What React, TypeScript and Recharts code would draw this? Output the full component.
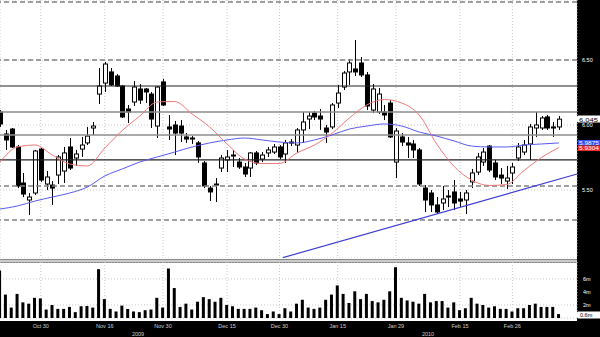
import React from "react";
import { ComposedChart, Bar, Line, XAxis, YAxis, ReferenceLine, CartesianGrid } from "recharts";

// daily OHLC (index 0 = first, partly hidden bar)
const opens = [
  6.100, 5.931, 5.969, 5.831, 5.554, 5.423, 5.477, 5.815, 5.546, 5.538,
  5.615, 5.646, 5.831, 5.746, 5.815, 5.862, 5.977, 6.238, 6.323, 6.408,
  6.377, 6.300, 6.123, 6.177, 6.277, 6.277, 6.238, 5.992, 6.331, 5.985,
  6.000, 5.992, 5.908, 5.892, 5.862, 5.708, 5.515, 5.538, 5.669, 5.731,
  5.762, 5.715, 5.677, 5.669, 5.785, 5.738, 5.785, 5.792, 5.831, 5.777,
  5.862, 5.846, 5.962, 6.046, 6.092, 6.069, 5.977, 5.985, 6.169, 6.292,
  6.408, 6.431, 6.477, 6.385, 6.115, 6.100, 6.100, 6.169, 5.715, 5.908,
  5.862, 5.854, 5.808, 5.515, 5.477, 5.385, 5.400, 5.446, 5.485, 5.431,
  5.423, 5.562, 5.638, 5.715, 5.838, 5.708, 5.615, 5.569, 5.631, 5.746,
  5.792, 5.854, 5.977, 5.977, 6.062, 5.985, 5.985,
];
const highs = [
  6.115, 5.962, 5.977, 5.846, 5.631, 5.477, 5.808, 5.823, 5.646, 5.569,
  5.769, 5.831, 5.900, 5.808, 5.908, 5.985, 6.023, 6.438, 6.485, 6.438,
  6.392, 6.308, 6.154, 6.338, 6.315, 6.285, 6.254, 6.300, 6.354, 6.077,
  6.031, 6.038, 5.938, 5.915, 5.877, 5.723, 5.531, 5.592, 5.769, 5.808,
  5.808, 5.746, 5.708, 5.792, 5.800, 5.792, 5.831, 5.854, 5.846, 5.885,
  5.892, 5.977, 6.100, 6.100, 6.108, 6.123, 6.000, 6.169, 6.308, 6.415,
  6.508, 6.654, 6.523, 6.408, 6.315, 6.285, 6.154, 6.192, 5.977, 5.938,
  5.908, 5.885, 5.823, 5.538, 5.500, 5.446, 5.531, 5.500, 5.577, 5.485,
  5.500, 5.662, 5.785, 5.823, 5.846, 5.731, 5.669, 5.685, 5.708, 5.862,
  5.885, 6.008, 6.100, 6.069, 6.077, 6.023, 6.069,
];
const lows = [
  5.985, 5.808, 5.823, 5.515, 5.446, 5.308, 5.462, 5.562, 5.500, 5.385,
  5.546, 5.554, 5.654, 5.685, 5.754, 5.846, 5.923, 6.162, 6.254, 6.300,
  6.292, 6.054, 6.015, 6.146, 6.162, 6.169, 5.977, 5.900, 6.146, 5.885,
  5.769, 5.869, 5.862, 5.854, 5.708, 5.515, 5.415, 5.408, 5.638, 5.638,
  5.677, 5.662, 5.600, 5.600, 5.692, 5.715, 5.754, 5.777, 5.738, 5.708,
  5.838, 5.785, 5.862, 5.969, 6.038, 5.962, 5.862, 5.969, 6.131, 6.269,
  6.308, 6.377, 6.369, 6.115, 6.092, 6.085, 6.038, 5.900, 5.592, 5.838,
  5.746, 5.746, 5.531, 5.331, 5.331, 5.315, 5.346, 5.369, 5.346, 5.369,
  5.315, 5.515, 5.615, 5.685, 5.638, 5.577, 5.546, 5.508, 5.546, 5.723,
  5.769, 5.731, 5.908, 5.962, 5.962, 5.908, 5.962,
];
const closes = [
  6.008, 5.885, 5.831, 5.531, 5.469, 5.446, 5.800, 5.577, 5.600, 5.515,
  5.754, 5.785, 5.669, 5.777, 5.846, 5.915, 5.992, 6.300, 6.469, 6.308,
  6.300, 6.062, 6.100, 6.292, 6.192, 6.254, 6.046, 6.292, 6.154, 5.969,
  5.938, 5.938, 5.892, 5.900, 5.754, 5.531, 5.485, 5.546, 5.746, 5.754,
  5.769, 5.677, 5.623, 5.785, 5.708, 5.769, 5.808, 5.831, 5.754, 5.862,
  5.869, 5.962, 6.023, 6.069, 6.062, 6.046, 5.946, 6.154, 6.246, 6.400,
  6.477, 6.408, 6.385, 6.146, 6.277, 6.238, 6.077, 5.908, 5.954, 5.869,
  5.846, 5.808, 5.546, 5.423, 5.385, 5.331, 5.431, 5.454, 5.400, 5.415,
  5.477, 5.631, 5.754, 5.792, 5.654, 5.600, 5.592, 5.592, 5.677, 5.831,
  5.846, 5.985, 6.000, 6.054, 5.977, 5.977, 6.045,
];
// volume in millions
const volumes = [
  7.3, 3.6, 1.6, 3.7, 2.4, 2.2, 3.1, 3.0, 1.3, 2.0,
  1.4, 1.4, 1.7, 0.9, 1.8, 1.85, 1.6, 7.5, 2.9, 1.4,
  1.0, 1.9, 1.4, 1.0, 0.9, 1.2, 1.3, 3.1, 1.6, 7.6,
  4.6, 1.7, 2.2, 1.3, 2.5, 3.2, 2.9, 2.5, 3.1, 2.0,
  1.8, 1.4, 1.4, 1.4, 1.6, 1.2, 0.6, 1.0, 0.6, 1.5,
  1.0, 2.2, 2.8, 1.6, 1.4, 1.6, 2.8, 3.6, 5.0, 3.7,
  2.3, 4.1, 2.9, 3.7, 2.6, 2.4, 2.8, 4.1, 7.8, 3.1,
  2.7, 2.5, 2.2, 3.7, 2.4, 2.6, 2.6, 1.6, 2.4, 1.2,
  1.5, 3.1, 2.2, 2.0, 1.6, 1.8, 1.4, 1.4, 1.0, 1.5,
  1.5, 2.0, 2.2, 1.7, 1.7, 1.7, 0.6,
];

// moving averages, read every third bar
const maIdx = [0, 3, 6, 9, 12, 15, 18, 21, 24, 27, 30, 33, 36, 39, 42, 45, 48, 51, 54, 57, 60, 63, 66, 69, 72, 75, 78, 81, 84, 87, 90, 93, 96];
const redMA = [5.715, 5.831, 5.846, 5.769, 5.700, 5.685, 5.823, 5.958, 6.069, 6.177, 6.181, 6.085, 5.985, 5.854, 5.738, 5.704, 5.704, 5.785, 5.846, 5.935, 6.054, 6.154, 6.196, 6.169, 6.077, 5.854, 5.681, 5.577, 5.535, 5.542, 5.650, 5.750, 5.827];
const blueMA = [5.354, 5.377, 5.415, 5.446, 5.477, 5.523, 5.608, 5.662, 5.715, 5.754, 5.792, 5.831, 5.862, 5.885, 5.900, 5.885, 5.869, 5.862, 5.885, 5.923, 5.969, 5.992, 6.008, 5.992, 5.946, 5.915, 5.877, 5.838, 5.831, 5.831, 5.846, 5.854, 5.862];

const dateTicks = [7, 18, 28, 39, 48, 58, 68, 79, 88];
const dateLabels = ["Oct 30", "Nov 16", "Nov 30", "Dec 15", "Dec 30", "Jan 15", "Jan 29", "Feb 15", "Feb 26"];
const priceTicks = [5, 5.5, 6, 6.5];
const volTicks = [2, 4, 6];

// drawn support / resistance levels
const dashedLevels = [6.946, 6.5, 5.531, 5.269];
const blackLevels = [6.3, 5.731];
const grayLevels = [6.1, 5.923];
const trendStart = { i: 48.6, v: 4.98 };
const trendEnd = { i: 99.1, v: 5.623 };

const X_DOMAIN = [0, 99.1];
const PRICE_DOMAIN = [4.977, 6.9615];
const FONT = "Liberation Sans, Arial, sans-serif";

const data = opens.map((o, i) => ({
  i,
  o,
  h: highs[i],
  l: lows[i],
  c: closes[i],
  vol: volumes[i],
}));
const redData = maIdx.map((i, k) => ({ i, v: redMA[k] }));
const blueData = maIdx.map((i, k) => ({ i, v: blueMA[k] }));

function Candle(props: any) {
  const { x, y, width, height, payload } = props;
  if (x == null || !payload) return null;
  const top = Math.min(y, y + height);
  const h = Math.abs(height);
  const range = payload.h - payload.l || 1;
  const py = (v: number) => top + ((payload.h - v) / range) * h;
  const cx = Math.round(x + width / 2) + 0.5;
  const yo = py(payload.o);
  const yc = py(payload.c);
  const up = payload.c >= payload.o;
  const bt = Math.min(yo, yc);
  const bh = Math.max(1, Math.abs(yo - yc));
  return (
    <g>
      <line x1={cx} x2={cx} y1={top} y2={top + h} stroke="#000" strokeWidth={1} />
      <rect x={cx - 2} y={bt} width={4} height={bh} fill={up ? "#fff" : "#000"} stroke="#000" strokeWidth={1} />
    </g>
  );
}

export default function App() {
  return (
    <div style={{ position: "absolute", left: 0, top: 0, width: 600, height: 337, background: "#fff", overflow: "hidden" }}>
      {/* right axis panel and bottom date band */}
      <div style={{ position: "absolute", left: 577, top: 0, width: 23, height: 337, background: "#000" }} />
      <div style={{ position: "absolute", left: 0, top: 321, width: 600, height: 16, background: "#000" }} />
      {/* panel separator */}
      <div style={{ position: "absolute", left: 0, top: 259, width: 577, height: 2, background: "#ccc", borderTop: "1px solid #888", borderBottom: "1px solid #888" }} />

      {/* ── Price panel ─────────────── */}
      <div style={{ position: "absolute", left: 0, top: 0 }}>
        <ComposedChart width={600} height={258} data={data} margin={{ top: 0, right: 0, left: 0, bottom: 0 }}>
          <CartesianGrid stroke="#c8c8c8" strokeDasharray="1 2" />
          <XAxis type="number" dataKey="i" domain={X_DOMAIN} ticks={dateTicks} hide allowDataOverflow />
          <YAxis
            orientation="right"
            width={23}
            domain={PRICE_DOMAIN}
            ticks={priceTicks}
            allowDataOverflow
            axisLine={false}
            tickLine={false}
            tickSize={0}
            tickMargin={5}
            tickFormatter={(v: number) => v.toFixed(2)}
            tick={{ fill: "#fff", fontSize: 5.5, fontFamily: FONT }}
          />
          {dashedLevels.map((v) => (
            <ReferenceLine key={"d" + v} y={v} stroke="#808080" strokeWidth={1.5} strokeDasharray="5 3" />
          ))}
          {grayLevels.map((v) => (
            <ReferenceLine key={"g" + v} y={v} stroke="#8c8c8c" strokeWidth={1.5} />
          ))}
          {blackLevels.map((v) => (
            <ReferenceLine key={"b" + v} y={v} stroke="#222" strokeWidth={1.2} />
          ))}
          <ReferenceLine
            segment={[{ x: trendStart.i, y: trendStart.v }, { x: trendEnd.i, y: trendEnd.v }]}
            stroke="#3c3cd2"
            strokeWidth={1.2}
            ifOverflow="visible"
          />
          <Line data={blueData} type="monotone" dataKey="v" stroke="#5a5af0" strokeWidth={1} dot={false} activeDot={false} isAnimationActive={false} />
          <Line data={redData} type="monotone" dataKey="v" stroke="#f07878" strokeWidth={1} dot={false} activeDot={false} isAnimationActive={false} />
          <Bar dataKey={(d: any) => [d.l, d.h]} barSize={4} shape={<Candle />} isAnimationActive={false} />
        </ComposedChart>
      </div>

      {/* ── Volume panel ─────────────── */}
      <div style={{ position: "absolute", left: 0, top: 262 }}>
        <ComposedChart width={600} height={75} data={data} margin={{ top: 0, right: 0, left: 0, bottom: 0 }}>
          <CartesianGrid stroke="#c8c8c8" strokeDasharray="1 2" />
          <XAxis
            type="number"
            dataKey="i"
            domain={X_DOMAIN}
            allowDataOverflow
            ticks={dateTicks}
            interval={0}
            height={19}
            axisLine={false}
            tickLine={false}
            tickSize={0}
            tickMargin={6}
            tickFormatter={(v: number) => dateLabels[dateTicks.indexOf(v)] || ""}
            tick={{ fill: "#d0d0d0", fontSize: 5.5, fontFamily: FONT }}
          />
          <YAxis
            orientation="right"
            width={23}
            domain={[0, 8.6]}
            ticks={volTicks}
            allowDataOverflow
            axisLine={false}
            tickLine={false}
            tickSize={0}
            tickMargin={6}
            tickFormatter={(v: number) => v + "m"}
            tick={{ fill: "#fff", fontSize: 5.5, fontFamily: FONT }}
          />
          <Bar dataKey="vol" fill="#000" barSize={3} isAnimationActive={false} />
        </ComposedChart>
      </div>

      {/* last value tags and year labels */}
      <svg width={600} height={337} style={{ position: "absolute", left: 0, top: 0, pointerEvents: "none" }}>
        <polygon points="574,119 578,115.5 600,115.5 600,122.5 578,122.5" fill="#fff" />
        <text x={579} y={121.5} fontSize={5.5} fontFamily={FONT} fill="#000" textLength={19} lengthAdjust="spacingAndGlyphs">6.045</text>
        <rect x={578} y={140} width={22} height={5.5} fill="#3050ff" />
        <text x={579} y={144.5} fontSize={5} fontFamily={FONT} fill="#fff" textLength={20} lengthAdjust="spacingAndGlyphs">5.9875</text>
        <rect x={578} y={145.5} width={22} height={5.5} fill="#f02828" />
        <text x={579} y={150} fontSize={5} fontFamily={FONT} fill="#fff" textLength={20} lengthAdjust="spacingAndGlyphs">5.9304</text>
        <polygon points="574,315 578,311.5 600,311.5 600,318.5 578,318.5" fill="#fff" />
        <text x={580} y={317.3} fontSize={5.5} fontFamily={FONT} fill="#000">0.6m</text>
        <text x={138} y={336} fontSize={5.5} fontFamily={FONT} fill="#d0d0d0" textAnchor="middle">2009</text>
        <text x={428} y={336} fontSize={5.5} fontFamily={FONT} fill="#d0d0d0" textAnchor="middle">2010</text>
      </svg>
    </div>
  );
}
